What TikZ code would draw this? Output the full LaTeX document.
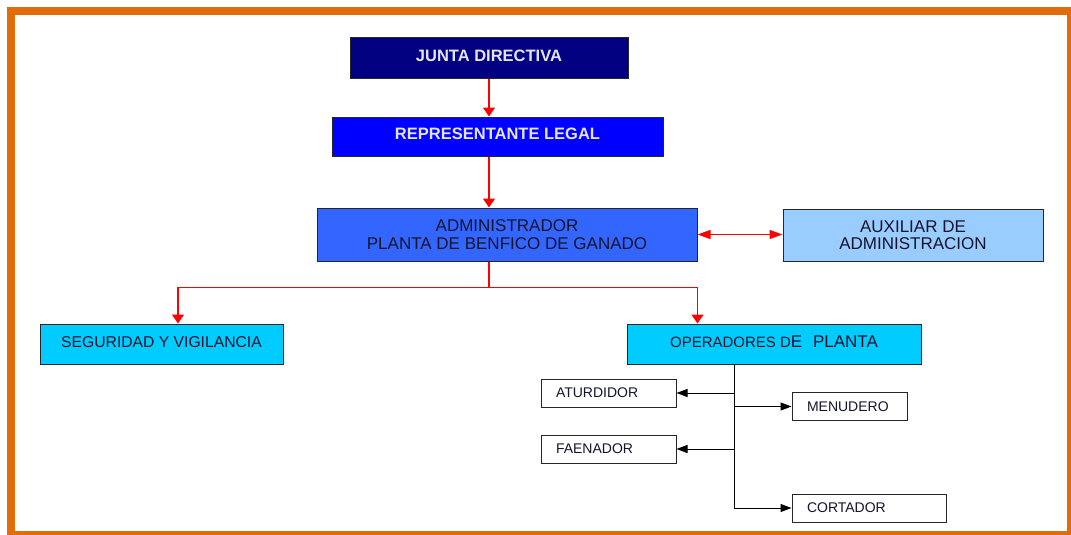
\documentclass[tikz,border=0pt]{standalone}
\usepackage{fontspec}
\setmainfont{Liberation Sans}
\usepackage{xcolor}
\usepackage{tikz}
\usetikzlibrary{arrows.meta}
\usetikzlibrary{positioning, calc}
\definecolor{marco}{RGB}{227,108,10}
\definecolor{azulmarino}{RGB}{0,0,128}
\definecolor{azul}{RGB}{0,0,255}
\definecolor{azulmedio}{RGB}{51,102,255}
\definecolor{azulclaro}{RGB}{153,204,255}
\definecolor{celeste}{RGB}{0,204,255}
\definecolor{textoosc}{RGB}{20,20,45}
\definecolor{textoclaro}{RGB}{228,228,255}
\definecolor{rojo}{RGB}{255,0,0}

\tikzset{
  caja/.style={draw=black!85, line width=1pt, inner sep=0pt, text=textoosc},
  cabeza/.style={caja, text=textoclaro, text height=12pt, text depth=6pt, font=\fontsize{16.5}{18}\selectfont\bfseries},
  cajita/.style={caja, inner xsep=15pt, minimum height=28pt, align=left, font=\fontsize{14}{16}\selectfont},
  flecharoja/.style={draw=rojo, line width=1.2pt, -{Triangle[length=9pt,width=12pt]}},
  flechanegra/.style={draw=black, line width=1pt, -{Triangle[length=11pt,width=8pt]}}
}

\begin{document}
\begin{tikzpicture}[x=1pt, y=-1pt]
    % Marco
    \useasboundingbox (0,0) rectangle (1071,535);
    \fill[white] (0,0) rectangle (1071,535);
    \draw[marco, line width=8pt] (11,11) rectangle (1071,535);

    % Direccion
    \node[cabeza, fill=azulmarino, minimum width=278pt, minimum height=41pt] (junta) at (489,58.5) {JUNTA DIRECTIVA};
    \node[cabeza, fill=azul, minimum width=331pt, minimum height=39pt] (rep) at (497.5,136.5) {REPRESENTANTE LEGAL};
    \node[caja, fill=azulmedio, minimum width=380pt, minimum height=53pt, align=center, font=\fontsize{17}{18.3}\selectfont] (admin) at (507,234.5) {ADMINISTRADOR\\PLANTA DE BENFICO DE GANADO};
    \node[caja, fill=azulclaro, minimum width=260pt, minimum height=52pt, align=center, font=\fontsize{17}{17.5}\selectfont] (aux) at (913,235) {AUXILIAR DE\\ADMINISTRACION};

    % Areas
    \node[caja, fill=celeste, minimum width=243pt, minimum height=40pt, text height=11pt, text depth=5pt, font=\fontsize{15.7}{17}\selectfont] (seg) at (161.5,344) {SEGURIDAD Y VIGILANCIA};
    \node[caja, fill=celeste, minimum width=294pt, minimum height=40pt, text height=12pt, text depth=6pt] (oper) at (774,344) {{\fontsize{15}{17}\selectfont OPERADORES D}{\fontsize{17}{19}\selectfont E\hspace{6pt} PLANTA}};

    % Operarios
    \node[cajita, text width=105pt] (atur) at (608.5,393) {ATURDIDOR};
    \node[cajita, text width=85pt] (menu) at (849.5,406.5) {MENUDERO};
    \node[cajita, text width=105pt] (faen) at (608.5,449) {FAENADOR};
    \node[cajita, text width=124pt] (cort) at (869,508) {CORTADOR};

    % Lineas rojas
    \draw[flecharoja] (junta.south) -- (junta.south |- rep.north);
    \draw[flecharoja] (junta.south |- rep.south) -- (junta.south |- admin.north);
    \draw[draw=rojo, line width=1.2pt, {Triangle[length=13pt,width=9pt]}-{Triangle[length=13pt,width=9pt]}] (admin.east) -- (admin.east -| aux.west);
    \coordinate (reparto) at ($(junta.south |- admin.south)+(0,26)$);
    \draw[rojo, line width=1.2pt] (junta.south |- admin.south) -- (reparto);
    \draw[flecharoja] (reparto) -| ([xshift=16.5pt]seg.north);
    \draw[flecharoja] (reparto) -| (admin.east |- oper.north);

    % Lineas negras
    \coordinate (tronco) at ([xshift=-40pt]oper.south);
    \draw[black, line width=1pt] (tronco) -- (tronco |- cort);
    \draw[flechanegra] (tronco |- atur) -- (atur.east);
    \draw[flechanegra] (tronco |- menu) -- (menu.west);
    \draw[flechanegra] (tronco |- faen) -- (faen.east);
    \draw[flechanegra] (tronco |- cort) -- (cort.west);
\end{tikzpicture}
\end{document}
